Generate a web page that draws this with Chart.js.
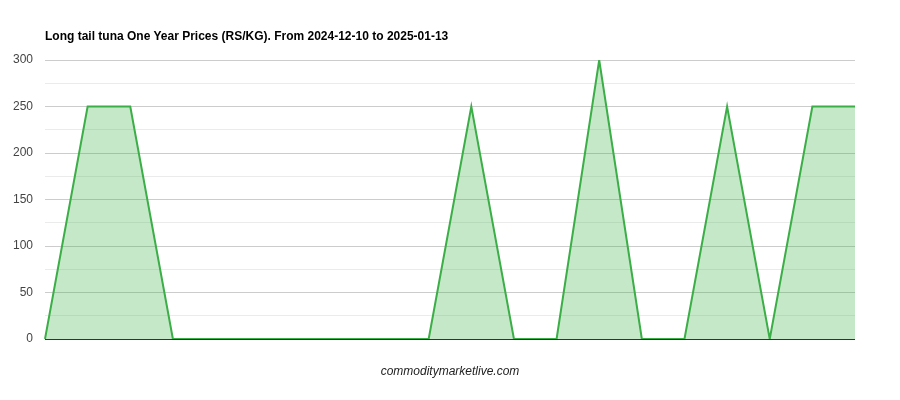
<!DOCTYPE html>
<html>
<head>
<meta charset="utf-8">
<script src="https://cdn.jsdelivr.net/npm/chart.js@4"></script>
<style>
  body { margin: 0; background: #fff; }
  #wrap { position: relative; width: 900px; height: 400px; }
  #priceChart { position: absolute; left: 0; top: 0; }
  #title { position: absolute; left: 45px; top: 29px; font: bold 12px Arial, "Liberation Sans", sans-serif; color: #000; white-space: nowrap; }
  #footer { position: absolute; left: 0; width: 900px; top: 364px; text-align: center; font: italic 12px Arial, "Liberation Sans", sans-serif; color: #222; }
</style>
</head>
<body>
<div id="wrap">
  <canvas id="priceChart" width="900" height="400"></canvas>
  <div id="title">Long tail tuna One Year Prices (RS/KG). From 2024-12-10 to 2025-01-13</div>
  <div id="footer">commoditymarketlive.com</div>
</div>
<script>
// dates are not shown on the chart, only used as category keys
const dates = [
  "2024-12-10", "2024-12-11", "2024-12-12", "2024-12-13", "2024-12-14",
  "2024-12-16", "2024-12-17", "2024-12-18", "2024-12-19", "2024-12-20",
  "2024-12-23", "2024-12-24", "2024-12-26", "2024-12-27", "2024-12-30",
  "2025-01-02", "2025-01-06", "2025-01-08", "2025-01-10", "2025-01-13"
];
const prices = [0, 250, 250, 0, 0, 0, 0, 0, 0, 0, 250, 0, 0, 300, 0, 0, 250, 0, 250, 250];
const yTicks = [0, 50, 100, 150, 200, 250, 300];

const ctx = document.getElementById("priceChart");

new Chart(ctx, {
  type: "line",
  data: {
    labels: dates,
    datasets: [{
      label: "Price",
      data: prices,
      borderColor: "#3bae47",
      backgroundColor: "rgba(62,178,72,0.3)",
      borderWidth: 2,
      fill: "origin",
      pointRadius: 0,
      tension: 0
    }]
  },
  options: {
    responsive: false,
    animation: false,
    layout: {
      padding: { top: 60, right: 45, bottom: 61, left: 0 }
    },
    plugins: {
      legend: { display: false },
      tooltip: { enabled: false }
    },
    scales: {
      x: {
        display: false,
        offset: false
      },
      y: {
        min: 0,
        max: 300,
        afterFit: scale => { scale.width = 45; },
        border: { display: false },
        grid: {
          drawTicks: false,
          lineWidth: 1,
          color: c => {
            const v = c.tick.value;
            if (v === 0) return "#333";
            return yTicks.includes(v) ? "#ccc" : "#ebebeb";
          }
        },
        ticks: {
          stepSize: 25,
          padding: 12,
          color: "#444",
          font: { family: "Arial, 'Liberation Sans', sans-serif", size: 12 },
          callback: v => yTicks.includes(v) ? v : ""
        }
      }
    }
  }
});
</script>
</body>
</html>
